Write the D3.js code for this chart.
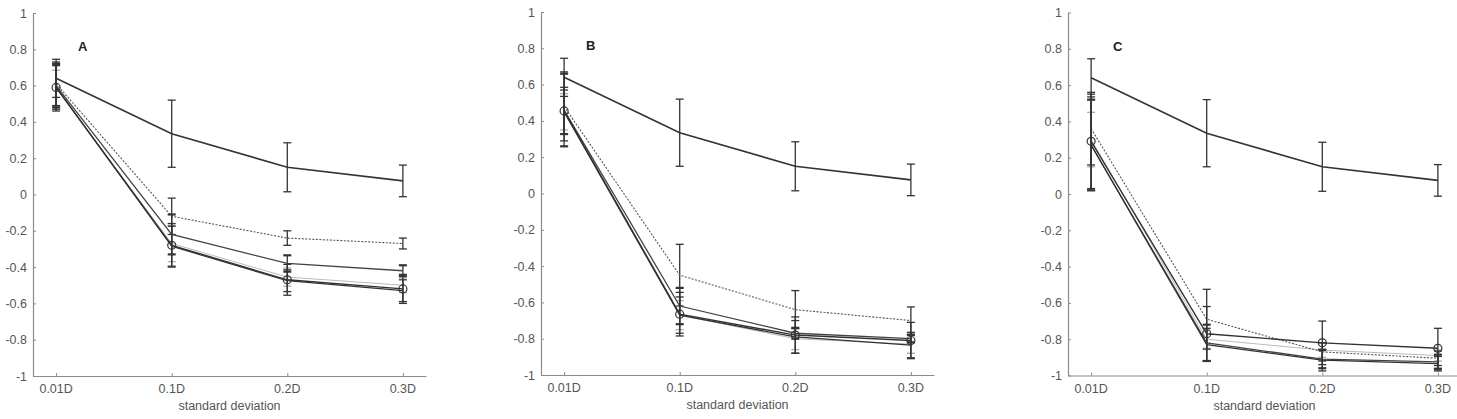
<!DOCTYPE html>
<html>
<head>
<meta charset="utf-8">
<script src="https://cdn.jsdelivr.net/npm/d3@7"></script>
<style>
  body { margin: 0; background: #fff; overflow: hidden; }
  svg { display: block; font-family: "Liberation Sans", Arial, sans-serif; }
</style>
</head>
<body>
<div id="chart"></div>
<script>
// categories and ticks
const categories = ["0.01D", "0.1D", "0.2D", "0.3D"];
const yTicks = [-1, -0.8, -0.6, -0.4, -0.2, 0, 0.2, 0.4, 0.6, 0.8, 1];
const panelLetters = ["A", "B", "C"];

// reference series (same in every panel)
const refMean = [0.64, 0.335, 0.15, 0.075];
const refErr = [0.105, 0.185, 0.135, 0.087];

// panel A
const aDashMean = [0.61, -0.12, -0.24, -0.27];
const aDashErr = [0.12, 0.10, 0.04, 0.03];
const aMidMean = [0.60, -0.22, -0.38, -0.42];
const aMidErr = [0.12, 0.11, 0.045, 0.03];
const aCircMean = [0.59, -0.28, -0.47, -0.52];
const aCircErr = [0.12, 0.12, 0.085, 0.08];
const aGrayMean = [0.585, -0.27, -0.455, -0.50];
const aGrayErr = [0.10, 0.10, 0.05, 0.04];
const aDarkMean = [0.59, -0.285, -0.475, -0.53];
const aDarkErr = [0.13, 0.11, 0.06, 0.06];

// panel B
const bDashMean = [0.48, -0.45, -0.64, -0.70];
const bDashErr = [0.19, 0.17, 0.105, 0.075];
const bMidMean = [0.46, -0.62, -0.77, -0.80];
const bMidErr = [0.20, 0.10, 0.03, 0.02];
const bCircMean = [0.455, -0.665, -0.78, -0.81];
const bCircErr = [0.13, 0.12, 0.10, 0.10];
const bGrayMean = [0.45, -0.67, -0.80, -0.83];
const bGrayErr = [0.10, 0.08, 0.06, 0.05];
const bDarkMean = [0.45, -0.67, -0.79, -0.835];
const bDarkErr = [0.12, 0.10, 0.09, 0.07];

// panel C
const cDashMean = [0.36, -0.69, -0.87, -0.905];
const cDashErr = [0.20, 0.165, 0.05, 0.04];
const cMidMean = [0.27, -0.82, -0.91, -0.925];
const cMidErr = [0.25, 0.10, 0.05, 0.04];
const cCircMean = [0.29, -0.77, -0.82, -0.85];
const cCircErr = [0.26, 0.15, 0.12, 0.11];
const cGrayMean = [0.30, -0.80, -0.86, -0.89];
const cGrayErr = [0.15, 0.05, 0.04, 0.03];
const cDarkMean = [0.27, -0.83, -0.915, -0.935];
const cDarkErr = [0.25, 0.09, 0.06, 0.04];

function makeSeries(dash, mid, circ, gray, dark) {
    return [
        { name: "gray", mean: gray[0], err: gray[1], color: "#bbb", width: 1, dash: null },
        { name: "dash", mean: dash[0], err: dash[1], color: "#555", width: 1.1, dash: "2,1.5" },
        { name: "mid", mean: mid[0], err: mid[1], color: "#444", width: 1.3, dash: null },
        { name: "dark", mean: dark[0], err: dark[1], color: "#333", width: 1.3, dash: null },
        { name: "circ", mean: circ[0], err: circ[1], color: "#333", width: 1.4, dash: null, circle: true },
        { name: "ref", mean: refMean, err: refErr, color: "#333", width: 1.6, dash: null }
    ];
}

const panelSeries = [
    makeSeries([aDashMean, aDashErr], [aMidMean, aMidErr], [aCircMean, aCircErr], [aGrayMean, aGrayErr], [aDarkMean, aDarkErr]),
    makeSeries([bDashMean, bDashErr], [bMidMean, bMidErr], [bCircMean, bCircErr], [bGrayMean, bGrayErr], [bDarkMean, bDarkErr]),
    makeSeries([cDashMean, cDashErr], [cMidMean, cMidErr], [cCircMean, cCircErr], [cGrayMean, cGrayErr], [cDarkMean, cDarkErr])
];

// panel placement (absolute page coordinates)
const panelLeft = [33, 541, 1068];
const panelTop = [13, 12, 12.5];
const innerWidth = 393;
const innerHeight = 363;
const fontFamily = "'Liberation Sans', Arial, sans-serif";
const axisColor = "#8a8a8a";
const labelColor = "#555";

const svg = d3.select("#chart")
    .append("svg")
    .attr("width", 1457)
    .attr("height", 419);

panelLetters.forEach((letter, p) => {
    const left = panelLeft[p];
    const top = panelTop[p];
    const bottom = top + innerHeight;

    const x = d3.scaleLinear().domain([0.8, 4.2]).range([left, left + innerWidth]);
    const y = d3.scaleLinear().domain([-1, 1]).range([bottom, top]);

    // axis lines and inward ticks
    const yAxis = d3.axisLeft(y).tickValues(yTicks).tickFormat("")
        .tickSizeInner(-3).tickSizeOuter(0);
    const xAxis = d3.axisBottom(x).tickValues([1, 2, 3, 4]).tickFormat("")
        .tickSizeInner(-3).tickSizeOuter(0);

    const gy = svg.append("g").attr("transform", `translate(${left}, 0)`).call(yAxis);
    const gx = svg.append("g").attr("transform", `translate(0, ${bottom})`).call(xAxis);
    [gx, gy].forEach(a => {
        a.select(".domain").attr("stroke", axisColor).attr("stroke-width", 1.2);
        a.selectAll(".tick line").attr("stroke", axisColor);
        a.selectAll(".tick text").remove();
    });

    // tick labels
    svg.append("g")
        .selectAll("text")
        .data(yTicks)
        .enter().append("text")
        .attr("x", left - 6)
        .attr("y", d => y(d) + 4.5)
        .attr("text-anchor", "end")
        .attr("fill", labelColor)
        .attr("font-family", fontFamily)
        .attr("font-size", 12.5)
        .text(d => String(+d.toFixed(1)));

    svg.append("g")
        .selectAll("text")
        .data(categories)
        .enter().append("text")
        .attr("x", (d, i) => x(i + 1))
        .attr("y", bottom + 17)
        .attr("text-anchor", "middle")
        .attr("fill", labelColor)
        .attr("font-family", fontFamily)
        .attr("font-size", 12.5)
        .text(d => d);

    // axis title
    svg.append("text")
        .attr("x", left + innerWidth / 2)
        .attr("y", bottom + 34)
        .attr("text-anchor", "middle")
        .attr("fill", labelColor)
        .attr("font-family", fontFamily)
        .attr("font-size", 12.5)
        .text("standard deviation");

    // panel letter
    svg.append("text")
        .attr("x", x(1) + 22)
        .attr("y", top + 38)
        .attr("fill", "#222")
        .attr("font-family", fontFamily)
        .attr("font-size", 13)
        .attr("font-weight", "bold")
        .text(letter);

    const line = d3.line()
        .x((d, i) => x(i + 1))
        .y(d => y(d));

    panelSeries[p].forEach(s => {
        const sg = svg.append("g");
        // error bars
        s.mean.forEach((m, i) => {
            const cx = x(i + 1);
            const lo = y(m - s.err[i]);
            const hi = y(m + s.err[i]);
            const col = s.name === "gray" ? "#aaa" : "#333";
            sg.append("line")
                .attr("x1", cx).attr("x2", cx)
                .attr("y1", lo).attr("y2", hi)
                .attr("stroke", col).attr("stroke-width", 1.3);
            [lo, hi].forEach(cy => {
                sg.append("line")
                    .attr("x1", cx - 4).attr("x2", cx + 4)
                    .attr("y1", cy).attr("y2", cy)
                    .attr("stroke", col)
                    .attr("stroke-width", s.name === "mid" ? 2.2 : 1.3);
            });
        });
        // line
        sg.append("path")
            .datum(s.mean)
            .attr("d", line)
            .attr("fill", "none")
            .attr("stroke", s.color)
            .attr("stroke-width", s.width)
            .attr("stroke-dasharray", s.dash);
        // markers
        if (s.circle) {
            sg.selectAll("circle")
                .data(s.mean)
                .enter().append("circle")
                .attr("cx", (d, i) => x(i + 1))
                .attr("cy", d => y(d))
                .attr("r", 4)
                .attr("fill", "none")
                .attr("stroke", "#333")
                .attr("stroke-width", 1.2);
        }
    });
});
</script>
</body>
</html>
